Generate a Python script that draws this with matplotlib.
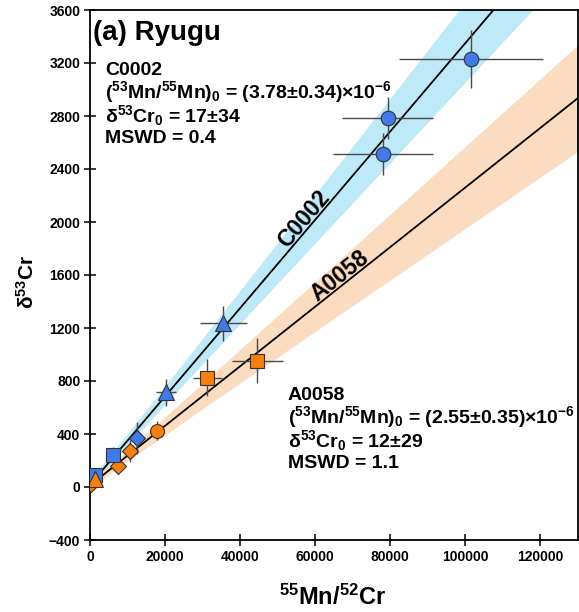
import numpy as np
import matplotlib
matplotlib.use('Agg')
import matplotlib.pyplot as plt

plt.rcParams['font.family'] = ['Liberation Sans', 'DejaVu Sans']
plt.rcParams['font.weight'] = 'bold'
plt.rcParams['mathtext.fontset'] = 'custom'
plt.rcParams['mathtext.rm'] = 'Liberation Sans:bold'
plt.rcParams['mathtext.bf'] = 'Liberation Sans:bold'
plt.rcParams['mathtext.it'] = 'Liberation Sans:bold:italic'

# --- isochron fit parameters (from the panel text) ---
CR53_CR52 = 0.113387  # converts (53Mn/55Mn)0 into a slope in per mil
c_r0, c_r0_err, c_int, c_int_err = 3.78e-6, 0.34e-6, 17, 34
a_r0, a_r0_err, a_int, a_int_err = 2.55e-6, 0.35e-6, 12, 29

# --- C0002 (blue) measurements ---
c_circ_x = [101500, 79300, 77950]
c_circ_y = [3228, 2787, 2513]
c_circ_xerr = [19300, 12100, 13300]
c_circ_yerr = [219, 160, 157]
c_tri_x = [35550, 20180]
c_tri_y = [1235, 715]
c_tri_xerr = [6200, 2700]
c_tri_yerr = [130, 100]
c_sq_x = [6220, 1330]
c_sq_y = [241, 91]
c_sq_xerr = [800, 400]
c_sq_yerr = [60, 40]
c_dia_x = [12450]
c_dia_y = [367]
c_dia_xerr = [1500]
c_dia_yerr = [120]

# --- A0058 (orange) measurements ---
a_circ_x = [17780]
a_circ_y = [425]
a_circ_xerr = [1500]
a_circ_yerr = [70]
a_sq_x = [31290, 44620]
a_sq_y = [825, 954]
a_sq_xerr = [3900, 6700]
a_sq_yerr = [140, 170]
a_dia_x = [10670, 7550, 150]
a_dia_y = [272, 158, 25]
a_dia_xerr = [1000, 900, 300]
a_dia_yerr = [80, 60, 30]
a_tri_x = [1330]
a_tri_y = [60]
a_tri_xerr = [400]
a_tri_yerr = [40]

BLUE = '#4179E6'
ORANGE = '#F5800F'
BLUE_BAND = '#BDE9F8'
ORANGE_BAND = '#FCDCC0'
ERR = '#4a4a4a'

W, H = 579, 612
fig = plt.figure(figsize=(W / 100, H / 100), dpi=100)
ax = fig.add_axes([90 / W, 1 - 540 / H, 488 / W, 530 / H])

ax.set_xlim(0, 130000)
ax.set_ylim(-400, 3600)
ax.set_xticks(np.arange(0, 120001, 20000))
ax.set_yticks(np.arange(-400, 3601, 400))

xs = np.linspace(0, 130000, 300)


def draw_fit(r0, r0_err, b, b_err, band_color):
    m = r0 / CR53_CR52 * 1000
    sm = r0_err / CR53_CR52 * 1000
    y = b + m * xs
    half = np.sqrt(b_err ** 2 + (sm * xs) ** 2)
    ax.fill_between(xs, y - half, y + half, color=band_color, lw=0, zorder=1)
    ax.plot(xs, y, color='black', lw=1.3, zorder=2)
    return m


m_c = draw_fit(c_r0, c_r0_err, c_int, c_int_err, BLUE_BAND)
m_a = draw_fit(a_r0, a_r0_err, a_int, a_int_err, ORANGE_BAND)


def pts(x, y, xerr, yerr, marker, color, ms):
    ax.errorbar(x, y, xerr=xerr, yerr=yerr, fmt='none', ecolor=ERR,
                elinewidth=1.0, capsize=0, zorder=3)
    ax.plot(x, y, ls='none', marker=marker, ms=ms, mfc=color, mec='#333333',
            mew=0.8, zorder=4)


pts(a_circ_x, a_circ_y, a_circ_xerr, a_circ_yerr, 'o', ORANGE, 10)
pts(a_sq_x, a_sq_y, a_sq_xerr, a_sq_yerr, 's', ORANGE, 9.5)
pts(a_dia_x, a_dia_y, a_dia_xerr, a_dia_yerr, 'D', ORANGE, 8)
pts(c_circ_x, c_circ_y, c_circ_xerr, c_circ_yerr, 'o', BLUE, 10.5)
pts(c_tri_x, c_tri_y, c_tri_xerr, c_tri_yerr, '^', BLUE, 11)
pts(c_sq_x, c_sq_y, c_sq_xerr, c_sq_yerr, 's', BLUE, 9.5)
pts(c_dia_x, c_dia_y, c_dia_xerr, c_dia_yerr, 'D', BLUE, 8)
pts(a_tri_x, a_tri_y, a_tri_xerr, a_tri_yerr, '^', ORANGE, 11)

for s in ax.spines.values():
    s.set_linewidth(1.3)
ax.tick_params(direction='inout', length=8, width=1.1, labelsize=10, pad=3)
for lab in ax.get_xticklabels() + ax.get_yticklabels():
    lab.set_fontweight('bold')


# line labels sit on top of each fit line, rotated to follow it
def line_label(x, m, b, s):
    p0 = ax.transData.transform((0, b))
    p1 = ax.transData.transform((100000, b + 100000 * m))
    ang = np.arctan2(p1[1] - p0[1], p1[0] - p0[0])
    off = 2.0
    ax.annotate(s, (x, b + m * x), xytext=(-off * np.sin(ang), off * np.cos(ang)),
                textcoords='offset points', rotation=np.degrees(ang),
                rotation_mode='anchor', ha='center', va='baseline',
                fontsize=16.5, fontweight='bold', zorder=5)


line_label(58800, m_c, c_int, 'C0002')
line_label(68000, m_a, a_int, 'A0058')


def ftext(px, py, s, size=14):
    fig.text(px / W, 1 - py / H, s, fontsize=size, fontweight='bold',
             ha='left', va='baseline')


ftext(93, 40, '(a) Ryugu', size=20)

ftext(105, 75, 'C0002')
ftext(105, 98, '($^{53}$Mn/$^{55}$Mn)$_0$ = (3.78±0.34)×10$^{-6}$')
ftext(105, 122, 'δ$^{53}$Cr$_0$ = 17±34')
ftext(105, 143, 'MSWD = 0.4')

ftext(288, 400, 'A0058')
ftext(288, 423, '($^{53}$Mn/$^{55}$Mn)$_0$ = (2.55±0.35)×10$^{-6}$')
ftext(288, 447, 'δ$^{53}$Cr$_0$ = 12±29')
ftext(288, 468, 'MSWD = 1.1')

fig.text(27 / W, 1 - 282 / H, 'δ$^{53}$Cr', rotation=90, fontsize=15,
         fontweight='bold', ha='center', va='center')
fig.text(333 / W, 1 - 597 / H, '$^{55}$Mn/$^{52}$Cr', fontsize=17,
         fontweight='bold', ha='center', va='center')

fig.savefig('out.png', dpi=100)
